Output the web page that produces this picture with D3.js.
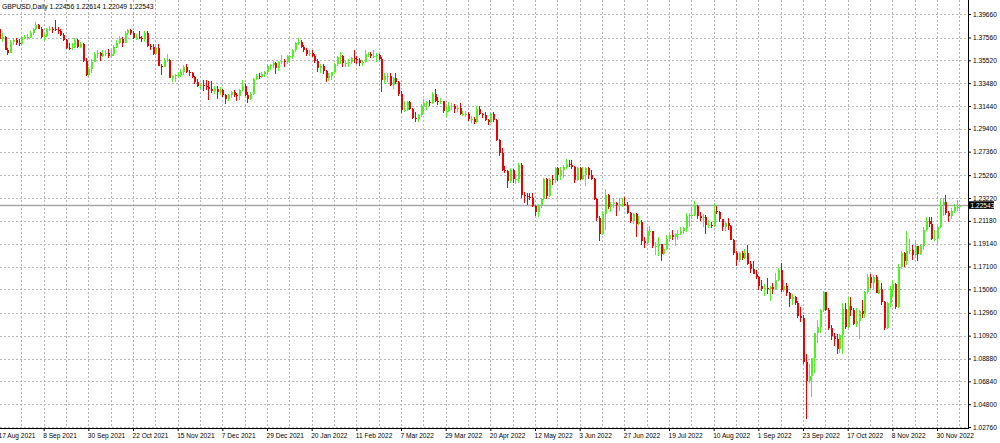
<!DOCTYPE html>
<html><head><meta charset="utf-8">
<script src="https://cdn.jsdelivr.net/npm/d3@7"></script>
<style>html,body{margin:0;padding:0;background:#fff;overflow:hidden}</style>
</head><body><svg id="c" width="1000" height="443"></svg>
<script>
const symbolTitle = "GBPUSD,Daily";
const lastQuote = ["1.22456", "1.22614", "1.22049", "1.22543"];
const currentPrice = 1.22543;
const priceTicks = [1.39660,1.37560,1.35520,1.33480,1.31440,1.29400,1.27360,1.25260,1.23220,1.21180,1.19140,1.17100,1.15060,1.12960,1.10920,1.08880,1.06840,1.04800,1.02760];
const dateLabels = ["17 Aug 2021","8 Sep 2021","30 Sep 2021","22 Oct 2021","15 Nov 2021","7 Dec 2021","29 Dec 2021","20 Jan 2022","11 Feb 2022","7 Mar 2022","29 Mar 2022","20 Apr 2022","12 May 2022","3 Jun 2022","27 Jun 2022","19 Jul 2022","10 Aug 2022","1 Sep 2022","23 Sep 2022","17 Oct 2022","8 Nov 2022","30 Nov 2022"];

// [open, high, low, close]
const candles2021Q3 = [
[1.3830,1.3838,1.3728,1.3740],[1.3740,1.3793,1.3717,1.3760],[1.3760,1.3770,1.3640,1.3640],[1.3640,1.3665,1.3602,1.3620],
[1.3620,1.3730,1.3615,1.3720],[1.3720,1.3750,1.3690,1.3735],[1.3735,1.3750,1.3690,1.3710],[1.3710,1.3740,1.3680,1.3700],[1.3700,1.3770,1.3680,1.3760],
[1.3760,1.3780,1.3740,1.3760],[1.3760,1.3790,1.3730,1.3760],[1.3760,1.3815,1.3750,1.3800],[1.3800,1.3840,1.3780,1.3830],[1.3830,1.3892,1.3820,1.3870],
[1.3870,1.3880,1.3830,1.3835],[1.3835,1.3850,1.3750,1.3760],[1.3760,1.3790,1.3725,1.3770],[1.3770,1.3845,1.3760,1.3830],[1.3830,1.3860,1.3815,1.3835],
[1.3835,1.3850,1.3795,1.3830],[1.3830,1.3913,1.3810,1.3820],[1.3820,1.3850,1.3790,1.3815],[1.3815,1.3835,1.3765,1.3775],[1.3775,1.3800,1.3725,1.3730],
[1.3730,1.3745,1.3655,1.3665],[1.3665,1.3705,1.3645,1.3660],[1.3660,1.3710,1.3640,1.3670],[1.3670,1.3750,1.3660,1.3735],[1.3735,1.3740,1.3660,1.3675],
[1.3675,1.3720,1.3660,1.3700],[1.3700,1.3710,1.3540,1.3550],[1.3550,1.3570,1.3410,1.3420],[1.3420,1.3490,1.3412,1.3475]
];
const candles2021Q4 = [
[1.3475,1.3560,1.3440,1.3540],
[1.3540,1.3630,1.3535,1.3610],[1.3610,1.3640,1.3570,1.3620],[1.3620,1.3625,1.3545,1.3590],[1.3590,1.3640,1.3580,1.3605],[1.3605,1.3640,1.3590,1.3615],
[1.3615,1.3650,1.3570,1.3590],[1.3590,1.3640,1.3575,1.3610],[1.3610,1.3690,1.3590,1.3670],[1.3670,1.3730,1.3660,1.3710],[1.3710,1.3770,1.3700,1.3745],
[1.3745,1.3760,1.3670,1.3710],[1.3710,1.3810,1.3705,1.3800],[1.3800,1.3834,1.3780,1.3825],[1.3825,1.3830,1.3780,1.3795],[1.3795,1.3815,1.3740,1.3755],
[1.3755,1.3785,1.3735,1.3760],[1.3760,1.3815,1.3745,1.3755],[1.3755,1.3770,1.3715,1.3740],[1.3740,1.3810,1.3720,1.3800],[1.3800,1.3810,1.3670,1.3680],
[1.3680,1.3700,1.3640,1.3670],[1.3670,1.3700,1.3600,1.3610],[1.3610,1.3680,1.3600,1.3660],[1.3660,1.3695,1.3500,1.3505],[1.3505,1.3515,1.3425,1.3495],
[1.3495,1.3570,1.3490,1.3555],[1.3555,1.3610,1.3540,1.3555],[1.3555,1.3565,1.3390,1.3395],[1.3395,1.3420,1.3355,1.3410],[1.3410,1.3430,1.3355,1.3420],
[1.3420,1.3450,1.3390,1.3425],[1.3425,1.3475,1.3400,1.3445],[1.3445,1.3510,1.3420,1.3495],[1.3495,1.3515,1.3440,1.3450],[1.3450,1.3470,1.3410,1.3440],
[1.3440,1.3450,1.3395,1.3400],[1.3400,1.3415,1.3340,1.3360],[1.3360,1.3385,1.3310,1.3320],[1.3320,1.3345,1.3300,1.3330],[1.3330,1.3380,1.3280,1.3320],
[1.3320,1.3375,1.3290,1.3310],[1.3310,1.3370,1.3195,1.3300],[1.3300,1.3370,1.3260,1.3275],[1.3275,1.3320,1.3255,1.3300],[1.3300,1.3320,1.3210,1.3265],
[1.3265,1.3310,1.3240,1.3285],[1.3285,1.3300,1.3220,1.3240],[1.3240,1.3255,1.3160,1.3205],[1.3205,1.3250,1.3190,1.3240],[1.3240,1.3275,1.3215,1.3270],
[1.3270,1.3290,1.3220,1.3240],[1.3240,1.3260,1.3190,1.3230],[1.3230,1.3300,1.3200,1.3285],[1.3285,1.3375,1.3280,1.3325],[1.3325,1.3340,1.3230,1.3240],
[1.3240,1.3265,1.3170,1.3210],[1.3210,1.3270,1.3200,1.3250],[1.3250,1.3390,1.3240,1.3385],[1.3385,1.3430,1.3375,1.3410],[1.3410,1.3435,1.3385,1.3405],
[1.3405,1.3445,1.3390,1.3430],[1.3430,1.3460,1.3400,1.3445],[1.3445,1.3515,1.3420,1.3500],[1.3500,1.3520,1.3470,1.3510],[1.3510,1.3545,1.3485,1.3530]
];
const candles2022Q1 = [
[1.3530,1.3535,1.3430,1.3480],[1.3480,1.3550,1.3460,1.3535],[1.3535,1.3600,1.3520,1.3545],[1.3545,1.3560,1.3490,1.3535],[1.3535,1.3600,1.3520,1.3590],
[1.3590,1.3600,1.3530,1.3590],[1.3590,1.3650,1.3560,1.3640],[1.3640,1.3720,1.3630,1.3710],[1.3710,1.3749,1.3690,1.3715],[1.3715,1.3735,1.3660,1.3675],
[1.3675,1.3690,1.3630,1.3640],[1.3640,1.3660,1.3590,1.3610],[1.3610,1.3645,1.3590,1.3620],[1.3620,1.3640,1.3580,1.3595],[1.3595,1.3605,1.3525,1.3550],
[1.3550,1.3565,1.3450,1.3480],[1.3480,1.3515,1.3440,1.3500],[1.3500,1.3520,1.3430,1.3460],[1.3460,1.3470,1.3358,1.3390],[1.3390,1.3435,1.3365,1.3410],
[1.3410,1.3450,1.3380,1.3445],[1.3445,1.3530,1.3430,1.3520],[1.3520,1.3595,1.3500,1.3585],[1.3585,1.3628,1.3520,1.3595],[1.3595,1.3600,1.3490,1.3530],
[1.3530,1.3545,1.3490,1.3530],[1.3530,1.3560,1.3490,1.3535],[1.3535,1.3580,1.3520,1.3570],[1.3570,1.3643,1.3530,1.3560],[1.3560,1.3590,1.3515,1.3555],
[1.3555,1.3570,1.3500,1.3530],[1.3530,1.3555,1.3500,1.3540],[1.3540,1.3644,1.3525,1.3610],[1.3610,1.3630,1.3580,1.3610],[1.3610,1.3630,1.3570,1.3590],
[1.3590,1.3640,1.3570,1.3595],[1.3595,1.3620,1.3540,1.3600],[1.3600,1.3610,1.3555,1.3565],[1.3565,1.3580,1.3272,1.3380],[1.3380,1.3435,1.3345,1.3410],
[1.3410,1.3440,1.3360,1.3415],[1.3415,1.3440,1.3320,1.3330],[1.3330,1.3400,1.3300,1.3390],[1.3390,1.3435,1.3345,1.3360],[1.3360,1.3370,1.3230,1.3250],
[1.3250,1.3275,1.3085,1.3110],[1.3110,1.3185,1.3090,1.3110],[1.3110,1.3190,1.3100,1.3180],[1.3180,1.3190,1.3110,1.3120],[1.3120,1.3130,1.3030,1.3040],
[1.3040,1.3090,1.3005,1.3030],[1.3030,1.3070,1.3000,1.3060],[1.3060,1.3160,1.3050,1.3145],[1.3145,1.3210,1.3090,1.3170],[1.3170,1.3190,1.3110,1.3180],
[1.3180,1.3200,1.3140,1.3170],[1.3170,1.3270,1.3160,1.3250],[1.3250,1.3298,1.3180,1.3190],[1.3190,1.3225,1.3150,1.3180],[1.3180,1.3215,1.3160,1.3185],
[1.3185,1.3190,1.3080,1.3100],[1.3100,1.3140,1.3050,1.3100],[1.3100,1.3180,1.3090,1.3140],[1.3140,1.3170,1.3110,1.3140]
];
const candles2022Q2 = [
[1.3140,1.3160,1.3080,1.3115],
[1.3115,1.3150,1.3090,1.3130],[1.3130,1.3170,1.3060,1.3070],[1.3070,1.3100,1.3055,1.3070],[1.3070,1.3100,1.3050,1.3075],[1.3075,1.3090,1.3010,1.3030],
[1.3030,1.3055,1.2990,1.3030],[1.3030,1.3050,1.2980,1.3000],[1.3000,1.3148,1.2995,1.3120],[1.3120,1.3140,1.3060,1.3070],[1.3070,1.3085,1.3040,1.3065],
[1.3065,1.3090,1.3010,1.3015],[1.3015,1.3030,1.2970,1.3000],[1.3000,1.3080,1.2990,1.3070],[1.3070,1.3090,1.3000,1.3020],[1.3020,1.3030,1.2830,1.2840],
[1.2840,1.2850,1.2700,1.2725],[1.2725,1.2770,1.2560,1.2570],[1.2570,1.2610,1.2545,1.2560],[1.2560,1.2575,1.2411,1.2470],[1.2470,1.2590,1.2460,1.2570],
[1.2570,1.2580,1.2460,1.2490],[1.2490,1.2540,1.2450,1.2495],[1.2495,1.2638,1.2460,1.2620],[1.2620,1.2635,1.2325,1.2350],[1.2350,1.2375,1.2275,1.2340],
[1.2340,1.2365,1.2260,1.2330],[1.2330,1.2370,1.2300,1.2320],[1.2320,1.2370,1.2240,1.2250],[1.2250,1.2260,1.2165,1.2200],[1.2200,1.2265,1.2155,1.2260],
[1.2260,1.2325,1.2230,1.2310],[1.2310,1.2500,1.2300,1.2490],[1.2490,1.2500,1.2315,1.2340],[1.2340,1.2500,1.2330,1.2490],[1.2490,1.2525,1.2440,1.2480],
[1.2480,1.2600,1.2460,1.2590],[1.2590,1.2600,1.2470,1.2530],[1.2530,1.2600,1.2480,1.2570],[1.2570,1.2620,1.2500,1.2600],[1.2600,1.2667,1.2585,1.2630],
[1.2630,1.2665,1.2600,1.2620],[1.2620,1.2666,1.2580,1.2600],[1.2600,1.2610,1.2460,1.2480],[1.2480,1.2600,1.2470,1.2590],[1.2590,1.2595,1.2480,1.2490],
[1.2490,1.2600,1.2480,1.2530],[1.2530,1.2600,1.2430,1.2590],[1.2590,1.2600,1.2490,1.2530],[1.2530,1.2570,1.2480,1.2490],[1.2490,1.2505,1.2300,1.2310],
[1.2310,1.2320,1.2120,1.2140],[1.2140,1.2160,1.1934,1.2000],[1.2000,1.2205,1.1990,1.2180],[1.2180,1.2406,1.2040,1.2350],[1.2350,1.2360,1.2220,1.2240],
[1.2240,1.2290,1.2200,1.2270],[1.2270,1.2325,1.2230,1.2280],[1.2280,1.2290,1.2160,1.2260],[1.2260,1.2320,1.2210,1.2270],[1.2270,1.2325,1.2240,1.2270],
[1.2270,1.2330,1.2250,1.2260],[1.2260,1.2290,1.2180,1.2190],[1.2190,1.2200,1.2100,1.2120],[1.2120,1.2185,1.2090,1.2180]
];
const candles2022Q3 = [
[1.2180,1.2190,1.1975,1.2090],
[1.2090,1.2165,1.2080,1.2110],[1.2110,1.2125,1.1900,1.1940],[1.1940,1.1970,1.1876,1.1920],[1.1920,1.2060,1.1910,1.2030],[1.2030,1.2075,1.1980,1.2030],
[1.2030,1.2030,1.1875,1.1890],[1.1890,1.1930,1.1810,1.1890],[1.1890,1.1970,1.1805,1.1910],[1.1910,1.1915,1.1760,1.1820],[1.1820,1.1880,1.1810,1.1870],
[1.1870,1.1990,1.1860,1.1960],[1.1960,1.2010,1.1930,1.1990],[1.1990,1.2040,1.1950,1.1970],[1.1970,1.2010,1.1890,1.2000],[1.2000,1.2040,1.1950,1.2000],
[1.2000,1.2065,1.1995,1.2030],[1.2030,1.2065,1.2000,1.2050],[1.2050,1.2185,1.2020,1.2160],[1.2160,1.2185,1.2065,1.2170],[1.2170,1.2246,1.2130,1.2170],
[1.2170,1.2293,1.2160,1.2250],[1.2250,1.2260,1.2130,1.2160],[1.2160,1.2200,1.2120,1.2140],[1.2140,1.2180,1.2060,1.2150],[1.2150,1.2170,1.2003,1.2080],
[1.2080,1.2125,1.2050,1.2080],[1.2080,1.2110,1.2050,1.2070],[1.2070,1.2275,1.2065,1.2210],[1.2210,1.2250,1.2175,1.2200],[1.2200,1.2205,1.2105,1.2130],
[1.2130,1.2130,1.2030,1.2060],[1.2060,1.2120,1.2030,1.2100],[1.2100,1.2145,1.2040,1.2070],[1.2070,1.2080,1.1950,1.1950],[1.1950,1.1960,1.1815,1.1830],
[1.1830,1.1845,1.1717,1.1770],[1.1770,1.1840,1.1750,1.1830],[1.1830,1.1845,1.1770,1.1790],[1.1790,1.1865,1.1775,1.1830],[1.1830,1.1900,1.1720,1.1730],
[1.1730,1.1760,1.1650,1.1690],[1.1690,1.1760,1.1640,1.1640],[1.1640,1.1680,1.1600,1.1620],[1.1620,1.1625,1.1500,1.1540],[1.1540,1.1590,1.1490,1.1510],
[1.1510,1.1550,1.1445,1.1520],[1.1520,1.1610,1.1460,1.1510],[1.1510,1.1540,1.1405,1.1530],[1.1530,1.1560,1.1460,1.1510],[1.1510,1.1650,1.1500,1.1590],
[1.1590,1.1700,1.1580,1.1680],[1.1680,1.1738,1.1480,1.1500],[1.1500,1.1590,1.1480,1.1540],[1.1540,1.1560,1.1450,1.1470],[1.1470,1.1480,1.1350,1.1420],
[1.1420,1.1460,1.1370,1.1440],[1.1440,1.1450,1.1370,1.1380],[1.1380,1.1400,1.1250,1.1270],[1.1270,1.1350,1.1210,1.1250],[1.1250,1.1275,1.0840,1.0860],
[1.0860,1.0930,1.0350,1.0690],[1.0690,1.0840,1.0670,1.0730],[1.0730,1.0890,1.0540,1.0890],[1.0890,1.1120,1.0760,1.1120],[1.1120,1.1230,1.1030,1.1170]
];
const candles2022Q4 = [
[1.1170,1.1330,1.1120,1.1320],[1.1320,1.1495,1.1300,1.1480],[1.1480,1.1480,1.1310,1.1320],[1.1320,1.1340,1.1140,1.1160],[1.1160,1.1190,1.1050,1.1090],
[1.1090,1.1120,1.1000,1.1060],[1.1060,1.1110,1.0925,1.0970],[1.0970,1.1110,1.0940,1.1100],[1.1100,1.1380,1.0925,1.1330],[1.1330,1.1380,1.1150,1.1170],
[1.1170,1.1440,1.1160,1.1360],[1.1360,1.1440,1.1270,1.1320],[1.1320,1.1340,1.1190,1.1200],[1.1200,1.1340,1.1170,1.1220],[1.1220,1.1320,1.1060,1.1310],
[1.1310,1.1410,1.1250,1.1290],[1.1290,1.1490,1.1250,1.1480],[1.1480,1.1640,1.1460,1.1620],[1.1620,1.1645,1.1520,1.1560],[1.1560,1.1630,1.1500,1.1620],
[1.1620,1.1630,1.1470,1.1470],[1.1470,1.1590,1.1460,1.1510],[1.1510,1.1560,1.1370,1.1390],[1.1390,1.1400,1.1145,1.1160],[1.1160,1.1390,1.1150,1.1380],
[1.1380,1.1540,1.1350,1.1510],[1.1510,1.1590,1.1440,1.1550],[1.1550,1.1560,1.1330,1.1350],[1.1350,1.1730,1.1340,1.1710],[1.1710,1.1850,1.1690,1.1830],
[1.1830,1.1840,1.1710,1.1760],[1.1760,1.2030,1.1720,1.1850],[1.1850,1.1960,1.1820,1.1860],[1.1860,1.1900,1.1765,1.1810],[1.1810,1.1950,1.1800,1.1890],
[1.1890,1.1895,1.1760,1.1820],[1.1820,1.1900,1.1810,1.1890],[1.1890,1.2060,1.1860,1.2040],[1.2040,1.2150,1.2030,1.2120],[1.2120,1.2150,1.2060,1.2090],
[1.2090,1.2150,1.1950,1.1960],[1.1960,1.2040,1.1940,1.1960],[1.1960,1.2070,1.1900,1.2060],[1.2060,1.2310,1.2050,1.2260],[1.2260,1.2320,1.2160,1.2290],
[1.2290,1.2345,1.2170,1.2190],[1.2190,1.2210,1.2107,1.2160],[1.2160,1.2230,1.2130,1.2210],[1.2210,1.2270,1.2190,1.2240],[1.2240,1.2300,1.2210,1.2245],
[1.22456,1.22614,1.22049,1.22543]
];

const candles = [].concat(candles2021Q3, candles2021Q4, candles2022Q1, candles2022Q2, candles2022Q3, candles2022Q4)
  .map((d, i) => ({i, o: d[0], h: d[1], l: d[2], c: d[3]}));

const svg = d3.select("#c");
const plotRight = 968, plotBottom = 428;
const x = d3.scaleLinear().domain([0, 336]).range([-1, 937]);
const y = d3.scaleLinear().domain([1.02760, 1.39660]).range([427, 14]);
const font = "'Liberation Sans', Arial, sans-serif";

svg.append("rect").attr("width", 1000).attr("height", 443).attr("fill", "#fff");

// grid
const grid = svg.append("g").attr("stroke", "#b4b4b4").attr("stroke-width", 1).attr("stroke-dasharray", "2,2").attr("shape-rendering", "crispEdges");
grid.selectAll("line.h").data(priceTicks).join("line").attr("class", "h")
  .attr("x1", 0).attr("x2", plotRight).attr("y1", d => Math.round(y(d)) + 0.5).attr("y2", d => Math.round(y(d)) + 0.5);
grid.selectAll("line.v").data(d3.range(0, 345, 8)).join("line").attr("class", "v")
  .attr("x1", d => Math.round(x(d)) + 0.5).attr("x2", d => Math.round(x(d)) + 0.5).attr("y1", 0).attr("y2", plotBottom);

// current price line
svg.append("line").attr("x1", 0).attr("x2", plotRight)
  .attr("y1", Math.round(y(currentPrice)) - 0.5).attr("y2", Math.round(y(currentPrice)) - 0.5)
  .attr("stroke", "#a8a8a8").attr("stroke-width", 1.3);

// candles
const bull = "#4cf520", bear = "#f00000";
const cg = svg.append("g").attr("shape-rendering", "crispEdges");
const cs = cg.selectAll("g").data(candles).join("g");
cs.append("line")
  .attr("x1", d => Math.round(x(d.i)) + 0.5).attr("x2", d => Math.round(x(d.i)) + 0.5)
  .attr("y1", d => y(d.h)).attr("y2", d => y(d.l))
  .attr("stroke", d => d.c >= d.o ? bull : bear).attr("stroke-width", 1);
cs.append("rect")
  .attr("x", d => Math.round(x(d.i)) - 0.5).attr("width", 2)
  .attr("y", d => y(Math.max(d.o, d.c)))
  .attr("height", d => Math.max(1, Math.abs(y(d.o) - y(d.c))))
  .attr("fill", d => d.c >= d.o ? bull : bear);

// right axis
const ya = svg.append("g").attr("transform", `translate(${plotRight},0)`)
  .call(d3.axisRight(y).tickValues(priceTicks).tickFormat(d3.format(".5f")).tickSize(3).tickPadding(2));
ya.select(".domain").remove();
ya.selectAll("text").attr("font-family", font).attr("font-size", "6.6px").attr("fill", "#000");
ya.selectAll("line").attr("stroke", "#000");
svg.append("line").attr("x1", plotRight + 0.5).attr("x2", plotRight + 0.5).attr("y1", 0).attr("y2", plotBottom + 1)
  .attr("stroke", "#000").attr("shape-rendering", "crispEdges");

// bottom axis
const xa = svg.append("g").attr("transform", `translate(0,${plotBottom})`)
  .call(d3.axisBottom(x).tickValues(d3.range(0, 337, 16)).tickFormat((d, i) => dateLabels[i]).tickSize(3).tickPadding(2));
xa.select(".domain").remove();
xa.selectAll("text").attr("font-family", font).attr("font-size", "6.6px").attr("fill", "#000")
  .attr("text-anchor", "start").attr("dx", "-1");
xa.selectAll("line").attr("stroke", "#000");
svg.append("line").attr("x1", 0).attr("x2", plotRight + 1).attr("y1", plotBottom + 0.5).attr("y2", plotBottom + 0.5)
  .attr("stroke", "#000").attr("shape-rendering", "crispEdges");

// current price label
const cy = y(currentPrice);
svg.append("rect").attr("x", plotRight).attr("y", cy - 4.3).attr("width", 26).attr("height", 7.6).attr("fill", "#000");
svg.append("text").attr("x", plotRight + 2.5).attr("y", cy + 2).text(d3.format(".5f")(currentPrice))
  .attr("font-family", font).attr("font-size", "6.6px").attr("fill", "#fff");

// title
svg.append("text").attr("x", 2).attr("y", 9).attr("font-family", font).attr("font-size", "6.8px").attr("fill", "#000")
  .text(symbolTitle + "  " + lastQuote.join(" "));
</script></body></html>
